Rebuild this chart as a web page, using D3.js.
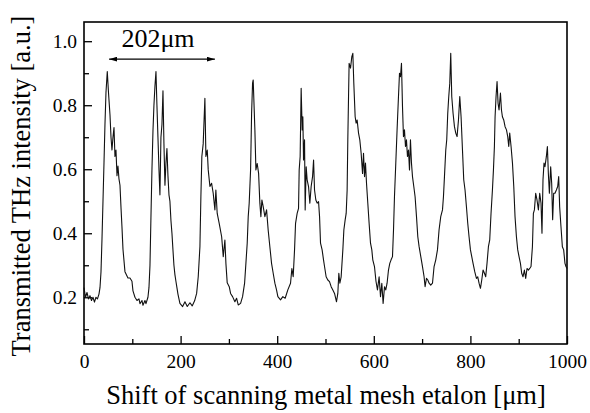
<!DOCTYPE html>
<html>
<head>
<meta charset="utf-8">
<script src="https://cdn.jsdelivr.net/npm/d3@7"></script>
<style>
  body { margin: 0; background: #fff; }
  svg { display: block; font-family: "Liberation Serif", "Times New Roman", serif; }
</style>
</head>
<body>
<div id="chart"></div>
<script>
// values (shift in um, transmitted intensity in a.u.)
const shiftUm = [
  0, 3.1, 6.2, 9.3, 12.4, 15.5, 18.6, 21.7, 24.8, 27.9, 31, 33.1, 35.2, 37.2, 39.3, 41.4, 43.4, 45.5, 48.2, 50.7,
  53.8, 55.9, 57.9, 60, 62.1, 64.1, 66.2, 68.3, 70.3, 72.4, 74.5, 76.6, 78.6, 80.7, 84.8, 91, 95.2, 99.3, 101.4, 105.5,
  109.7, 113.8, 115.9, 120, 122.1, 126.2, 128.3, 132.4, 134.5, 136.6, 138.6, 140.7, 142.8, 144.8, 146.9, 149, 151, 153.1, 155.2, 157.2,
  159.3, 161.4, 163.5, 165.5, 167.6, 169.7, 171.7, 173.8, 175.9, 177.9, 180, 182.1, 184.1, 186.2, 188.3, 190.3, 192.4, 194.5,
  198.6, 204.2, 209, 213.8, 219.3, 224, 229, 233.2, 236.5, 240, 242, 244, 246.8, 250.3, 252.4, 255.2, 257.2, 260.7, 264.2, 267.5,
  271, 273, 275.8, 280, 285, 288.3, 291.7, 293.8, 296.5, 300.7, 303.5, 307.6, 312.4, 315.9, 319.3, 324.2, 328.3, 332.5, 335.2, 337.9,
  340, 342, 344.9, 347, 349, 350.3, 353.8, 355.9, 358.6, 361.5, 364.1, 366.2, 368.3, 371, 374.5, 378, 381.3, 384.8, 388.3, 391.7,
  395.2, 398.6, 401.4, 406.9, 411.7, 416.5, 422, 427.6, 430.4, 433.1, 435.9, 438, 441.3, 444.2, 445.5, 447.5, 449.6, 451.7, 453.1, 454.5,
  456.6, 457.9, 460, 462, 464.9, 467.6, 470.3, 473.2, 475.3, 477.3, 480, 482.7, 485.6, 487.7, 489.7, 493, 495.9, 498, 501.3, 504.8,
  508.3, 511.7, 515.2, 518.7, 522.8, 525.5, 527.6, 529.7, 532.4, 535.9, 538, 540.7, 542.8, 544.8, 546.2, 547.7, 548.9, 551.8, 554.5, 556.6,
  558.6, 561.4, 563.4, 565.5, 568.4, 571, 573.8, 576.7, 578.7, 580.8, 582.8, 584.9, 587.6, 590.3, 593.2, 595.9, 597.9, 601.4, 604.5, 607.6,
  611, 613.9, 616.6, 619.3, 622.2, 624.8, 627.5, 630.4, 633.1, 635.8, 638.7, 640.8, 642.8, 645.5, 648.2, 651.1, 653.2, 655.2, 657.3, 659.4,
  661.4, 663.5, 665.6, 667.6, 669.7, 671.8, 673.9, 675.9, 678, 680.1, 682.8, 685.5, 688.4, 691.1, 693.8, 697.3, 700.8, 704.1, 706.2, 709.1,
  711.8, 714.5, 717.9, 721.5, 724.8, 728.3, 731.8, 735.1, 738.6, 742.2, 744.2, 746.3, 749, 751, 753.1, 755.2, 757.3, 759.3, 761.4, 764.1,
  767, 769.7, 772.4, 775.3, 778, 780.7, 783.6, 786.2, 788.9, 791.8, 794.5, 797.2, 800.1, 802.8, 805.5, 809, 812.5, 815.2, 817.9, 820.8,
  823.5, 826.2, 829.1, 831.7, 834.4, 837.3, 840, 842.7, 845.6, 847.7, 849.7, 851.1, 853.1, 855.2, 857.3, 859.3, 862.2, 864.3, 866.3, 869,
  871.8, 874.7, 877.3, 879.4, 881.4, 884.2, 887.1, 889.8, 892.4, 895.3, 898, 900.7, 903.6, 906.2, 908.9, 911.8, 914.5, 917.2, 920.1, 922.8,
  925.5, 928.4, 930.4, 932.5, 935.2, 937.9, 940.8, 943.5, 946.2, 948.2, 950.3, 952.4, 954.4, 957.3, 959.4, 961.4, 963.5, 966.2, 968.3, 970.3,
  972.4, 975.1, 978, 980.7, 982.8, 984.8, 987.5, 990.4, 993.1, 995.8, 997.9, 1000
];
const intensity = [
  0.23, 0.20, 0.215, 0.195, 0.205, 0.19, 0.20, 0.185, 0.20, 0.195, 0.21, 0.23, 0.28, 0.38, 0.50, 0.62, 0.74, 0.84, 0.905, 0.84,
  0.77, 0.70, 0.66, 0.70, 0.73, 0.64, 0.66, 0.58, 0.61, 0.57, 0.55, 0.48, 0.42, 0.35, 0.28, 0.26, 0.26, 0.25, 0.22, 0.20,
  0.19, 0.195, 0.18, 0.19, 0.175, 0.19, 0.18, 0.20, 0.23, 0.30, 0.45, 0.60, 0.72, 0.80, 0.86, 0.905, 0.80, 0.70, 0.60, 0.52,
  0.70, 0.74, 0.845, 0.68, 0.55, 0.62, 0.665, 0.58, 0.52, 0.50, 0.44, 0.40, 0.35, 0.30, 0.27, 0.25, 0.23, 0.21,
  0.181, 0.171, 0.186, 0.171, 0.183, 0.173, 0.189, 0.212, 0.264, 0.358, 0.514, 0.64, 0.68, 0.822, 0.64, 0.66, 0.598, 0.546, 0.556, 0.525,
  0.473, 0.535, 0.462, 0.43, 0.389, 0.327, 0.379, 0.306, 0.245, 0.233, 0.212, 0.202, 0.186, 0.197, 0.176, 0.181, 0.202, 0.244, 0.306, 0.369,
  0.452, 0.494, 0.598, 0.775, 0.869, 0.879, 0.723, 0.598, 0.618, 0.587, 0.494, 0.452, 0.504, 0.483, 0.452, 0.473, 0.41, 0.358, 0.306, 0.275,
  0.244, 0.223, 0.202, 0.192, 0.202, 0.197, 0.223, 0.244, 0.29, 0.264, 0.348, 0.431, 0.462, 0.478, 0.598, 0.64, 0.853, 0.723, 0.764, 0.629,
  0.692, 0.473, 0.608, 0.567, 0.546, 0.494, 0.546, 0.577, 0.629, 0.535, 0.504, 0.494, 0.499, 0.452, 0.369, 0.348, 0.317, 0.296, 0.264, 0.254,
  0.249, 0.233, 0.223, 0.212, 0.186, 0.212, 0.275, 0.244, 0.264, 0.348, 0.41, 0.442, 0.462, 0.535, 0.692, 0.827, 0.931, 0.916, 0.952, 0.962,
  0.869, 0.764, 0.744, 0.754, 0.713, 0.692, 0.65, 0.587, 0.65, 0.577, 0.619, 0.556, 0.494, 0.431, 0.369, 0.348, 0.317, 0.296, 0.25, 0.223,
  0.264, 0.202, 0.244, 0.181, 0.233, 0.223, 0.244, 0.285, 0.306, 0.317, 0.327, 0.41, 0.514, 0.618, 0.723, 0.827, 0.90, 0.889, 0.931, 0.796,
  0.702, 0.723, 0.671, 0.692, 0.64, 0.66, 0.598, 0.692, 0.619, 0.577, 0.546, 0.514, 0.452, 0.389, 0.358, 0.327, 0.296, 0.264, 0.233, 0.259,
  0.254, 0.244, 0.238, 0.244, 0.296, 0.317, 0.348, 0.41, 0.452, 0.473, 0.514, 0.577, 0.66, 0.692, 0.775, 0.827, 0.869, 0.962, 0.827, 0.775,
  0.733, 0.713, 0.702, 0.754, 0.827, 0.764, 0.66, 0.567, 0.535, 0.483, 0.431, 0.389, 0.348, 0.327, 0.306, 0.28, 0.259, 0.264, 0.244, 0.228,
  0.254, 0.285, 0.275, 0.264, 0.306, 0.358, 0.379, 0.462, 0.535, 0.598, 0.671, 0.764, 0.827, 0.874, 0.806, 0.785, 0.838, 0.785, 0.764, 0.754,
  0.733, 0.723, 0.702, 0.671, 0.713, 0.671, 0.619, 0.546, 0.452, 0.389, 0.348, 0.327, 0.306, 0.275, 0.264, 0.285, 0.259, 0.29, 0.285, 0.29,
  0.296, 0.358, 0.462, 0.473, 0.525, 0.504, 0.473, 0.525, 0.494, 0.40, 0.567, 0.619, 0.608, 0.64, 0.671, 0.587, 0.525, 0.608, 0.556, 0.442,
  0.525, 0.525, 0.535, 0.546, 0.577, 0.483, 0.421, 0.358, 0.348, 0.306, 0.296, 0.29
];

const xTicks = [0, 200, 400, 600, 800, 1000];
const xMinor = [100, 300, 500, 700, 900];
const yTicks = [0.2, 0.4, 0.6, 0.8, 1.0];
const yMinor = [0.1, 0.3, 0.5, 0.7, 0.9];

// period marker drawn at the top left
const periodLabel = "202\u03bcm";
const periodSpan = [52, 271];
const periodLevel = 0.944;

const width = 590;
const height = 413;
const margin = { top: 22, right: 23, bottom: 69, left: 84 };

const svg = d3.select("#chart")
  .append("svg")
  .attr("width", width)
  .attr("height", height);

const x = d3.scaleLinear().domain([0, 1000]).range([margin.left, width - margin.right]);
const y = d3.scaleLinear().domain([0.054, 1.06]).range([height - margin.bottom, margin.top]);

// minor ticks first, no labels
svg.append("g")
  .attr("transform", `translate(0,${y.range()[0]})`)
  .call(d3.axisBottom(x).tickValues(xMinor).tickSize(-5).tickFormat(""))
  .call(g => g.select(".domain").remove());

svg.append("g")
  .attr("transform", `translate(${x.range()[0]},0)`)
  .call(d3.axisLeft(y).tickValues(yMinor).tickSize(-5).tickFormat(""))
  .call(g => g.select(".domain").remove());

svg.append("g")
  .attr("transform", `translate(0,${y.range()[0]})`)
  .call(d3.axisBottom(x).tickValues(xTicks).tickSize(-8).tickPadding(10).tickFormat(d3.format("d")))
  .call(g => g.select(".domain").remove());

svg.append("g")
  .attr("transform", `translate(${x.range()[0]},0)`)
  .call(d3.axisLeft(y).tickValues(yTicks).tickSize(-8).tickPadding(7).tickFormat(d3.format(".1f")))
  .call(g => g.select(".domain").remove());

svg.selectAll(".tick line").attr("stroke", "#000").attr("stroke-width", 1.3);
svg.selectAll(".tick text")
  .attr("fill", "#000")
  .style("font-family", "'Liberation Serif', 'Times New Roman', serif")
  .style("font-size", "19.5px");

// frame
svg.append("rect")
  .attr("x", x.range()[0])
  .attr("y", y.range()[1])
  .attr("width", x.range()[1] - x.range()[0])
  .attr("height", y.range()[0] - y.range()[1])
  .attr("fill", "none")
  .attr("stroke", "#000")
  .attr("stroke-width", 1.6);

const line = d3.line()
  .x((d, i) => x(shiftUm[i]))
  .y(d => y(d));

svg.append("path")
  .datum(intensity)
  .attr("fill", "none")
  .attr("stroke", "#111")
  .attr("stroke-width", 1.1)
  .attr("stroke-linejoin", "round")
  .attr("d", line);

// arrow marking one period
const defs = svg.append("defs");
["start", "end"].forEach(id => {
  defs.append("marker")
    .attr("id", "arrow-" + id)
    .attr("viewBox", "0 0 10 6")
    .attr("refX", id === "end" ? 10 : 0)
    .attr("refY", 3)
    .attr("markerWidth", 8)
    .attr("markerHeight", 5)
    .attr("markerUnits", "userSpaceOnUse")
    .attr("orient", "auto")
    .append("path")
    .attr("d", id === "end" ? "M0,0 L10,3 L0,6 Z" : "M10,0 L0,3 L10,6 Z")
    .attr("fill", "#000");
});

svg.append("line")
  .attr("x1", x(periodSpan[0]))
  .attr("x2", x(periodSpan[1]))
  .attr("y1", y(periodLevel))
  .attr("y2", y(periodLevel))
  .attr("stroke", "#000")
  .attr("stroke-width", 1.2)
  .attr("marker-start", "url(#arrow-start)")
  .attr("marker-end", "url(#arrow-end)");

svg.append("text")
  .attr("x", x((periodSpan[0] + periodSpan[1]) / 2) - 4)
  .attr("y", y(periodLevel) - 12)
  .attr("text-anchor", "middle")
  .style("font-size", "26px")
  .text(periodLabel);

// axis titles
svg.append("text")
  .attr("x", 326)
  .attr("y", 404)
  .attr("text-anchor", "middle")
  .style("font-size", "26.5px")
  .text("Shift of scanning metal mesh etalon [\u03bcm]");

svg.append("text")
  .attr("transform", "translate(30,186) rotate(-90)")
  .attr("text-anchor", "middle")
  .style("font-size", "26.5px")
  .text("Transmitted THz intensity [a.u.]");
</script>
</body>
</html>
